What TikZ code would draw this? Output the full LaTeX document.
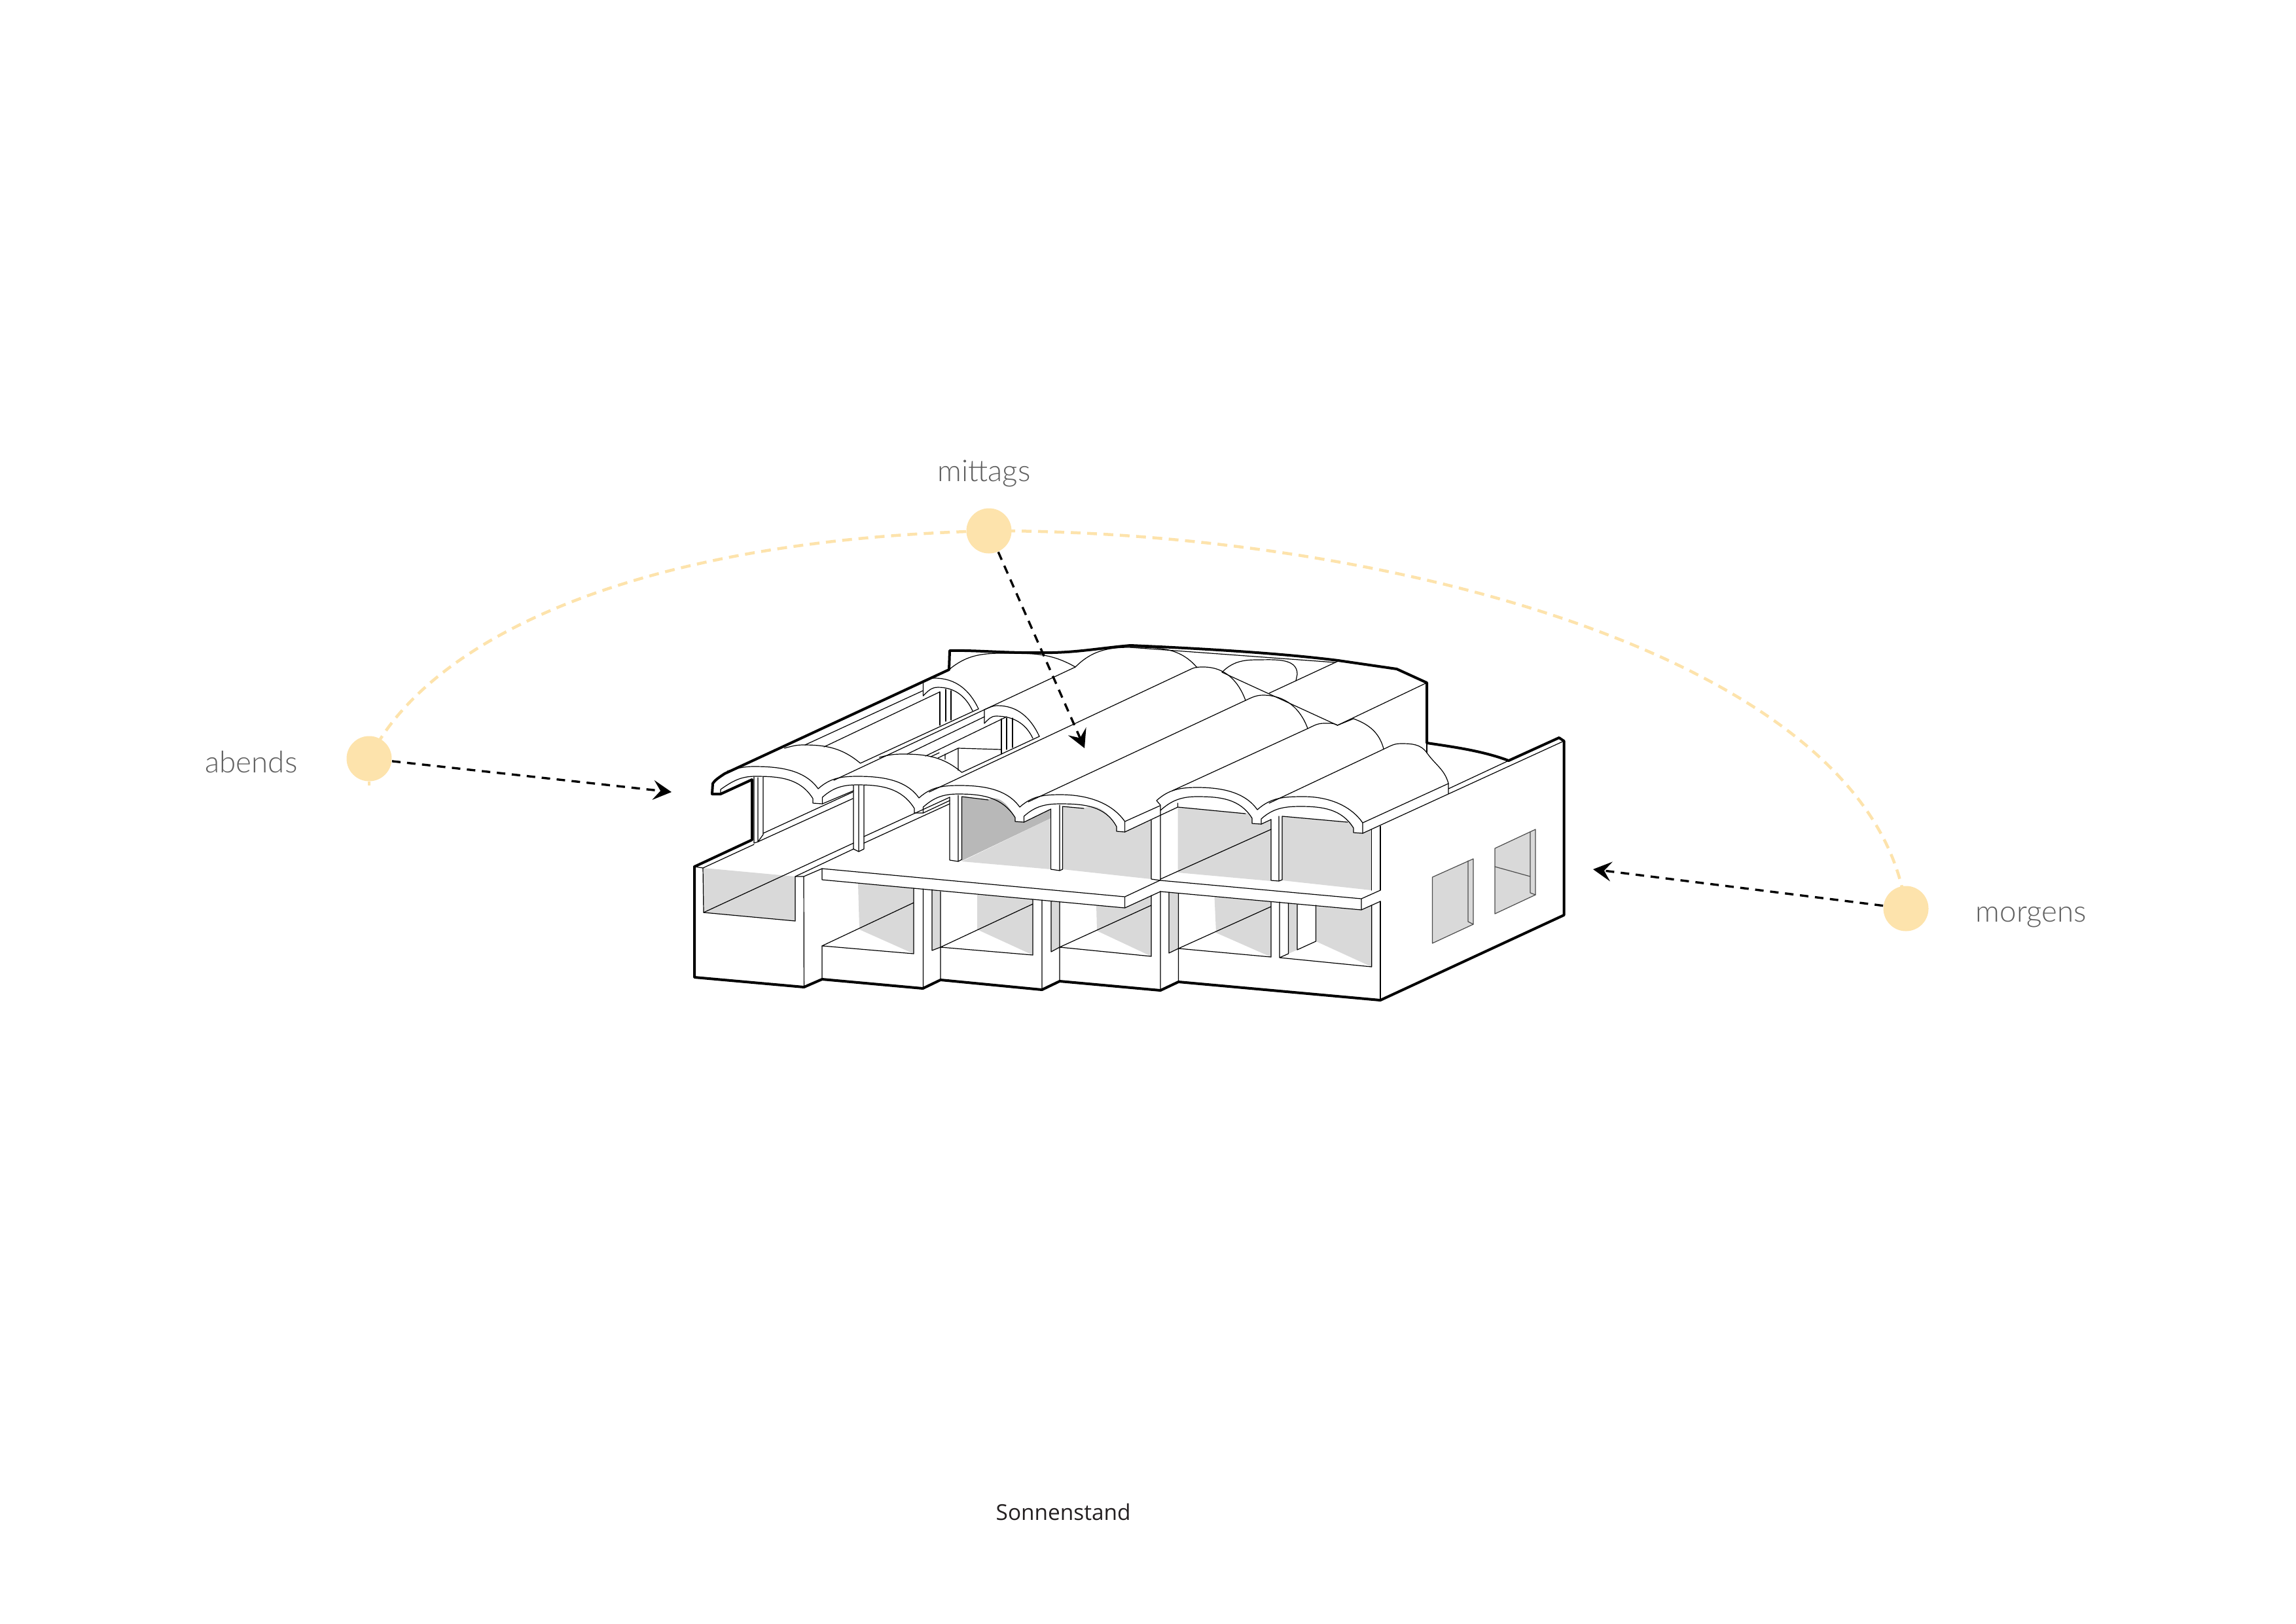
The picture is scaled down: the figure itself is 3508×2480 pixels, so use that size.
\documentclass[tikz,border=0pt]{standalone}
\usepackage{fontspec}
\usetikzlibrary{arrows.meta}
\setmainfont{Open Sans}
\newfontfamily\lightfont{Lato}[UprightFont=* Light]
\definecolor{sun}{HTML}{FDE3AC}
\definecolor{lg}{HTML}{D9D9D9}
\definecolor{dg}{HTML}{B8B8B8}
\definecolor{lab}{HTML}{5F5F5F}
\definecolor{cap}{HTML}{231F20}
\tikzset{
 ln/.style={line width=.12mm,line join=round,line cap=round},
 thk/.style={line width=.4mm,line join=round,line cap=round},
 shlg/.style={fill=lg,draw=none},
 shdg/.style={fill=dg,draw=none},
 al/.style={out=42,in=180},
 ar/.style={out=0,in=125,looseness=.9},
 bk/.style={out=0,in=110},
 sunnode/.style={circle,fill=sun,draw=none,minimum size=6.9mm,inner sep=0},
 sunpath/.style={draw=sun,line width=.45mm,dash pattern=on 1.5mm off 1mm},
 ray/.style={line width=.34mm,dash pattern=on 1.3mm off 1mm,-{Stealth[length=2.8mm,width=3mm,inset=1.1mm]}},
 lbl/.style={font=\lightfont\fontsize{13pt}{15pt}\selectfont,text=lab,anchor=base west,inner sep=0},
 caplbl/.style={font=\fontsize{9.5pt}{11pt}\selectfont,text=cap,anchor=base west,inner sep=0}
}
\begin{document}
\begin{tikzpicture}[x=.1mm,y=-.1mm]
\useasboundingbox (0,0) rectangle (3508,2480);
% ---- suns and their path
\node[sunnode] (mittags) at (1511,811) {};
\node[sunnode] (abends) at (564,1159) {};
\node[sunnode] (morgens) at (2912,1388) {};
\draw[sunpath] (abends.center) .. controls (650,985) and (950,825) .. (mittags.center);
\draw[sunpath] (mittags.center) .. controls (2100,810) and (2860,1000) .. (morgens.center);
\draw[draw=sun,line width=.45mm] (abends.south) -- ++(0,6);
% ---- grey faces
\fill[shlg] (1075,1326)--(1215,1339)--(1215,1407)--(1075,1394)--cycle;
\fill[shlg] (1311,1350)--(1396,1357)--(1396,1457)--(1313,1420)--cycle;
\fill[shlg] (1424,1360)--(1437,1362)--(1437,1447)--(1424,1452)--cycle;
\fill[shlg] (1493,1367)--(1578,1374)--(1578,1459)--(1493,1420)--cycle;
\fill[shlg] (1606,1377)--(1619,1378)--(1619,1447)--(1606,1454)--cycle;
\fill[shlg] (1675,1383)--(1719,1387)--(1759,1368)--(1759,1461)--(1676,1422)--cycle;
\fill[shlg] (1786,1363)--(1800.5,1365)--(1800.5,1449)--(1786,1456)--cycle;
\fill[shlg] (1855.5,1370)--(1942,1378)--(1942,1462)--(1858,1425)--cycle;
\fill[shlg] (1968.4,1380)--(1982,1382)--(1982,1451)--(1968.4,1457)--cycle;
\fill[shlg] (2010.5,1385)--(2080,1390)--(2095.7,1383)--(2095.7,1477)--(2010.5,1438)--cycle;
\fill[shdg] (1469.5,1217)--(1510,1222) to[out=30,in=118] (1551,1249)--(1551,1255)--(1564.5,1256)--(1605.6,1236)--(1605.6,1250)--(1469.5,1315)--cycle;
\fill[shlg] (1469.5,1316)--(1605.6,1250)--(1605.6,1328)--cycle;
\fill[shlg] (1623.5,1232)--(1656,1235) to[out=30,in=118] (1706,1263)--(1706,1270)--(1719,1271)--(1759,1253)--(1759,1343)--(1623.5,1328)--cycle;
\fill[shlg] (1799.5,1233)--(1903,1243) to[out=40,in=120] (1913,1250)--(1913,1258)--(1927,1259)--(1942,1252)--(1942,1346)--(1799.5,1333)--cycle;
\fill[shlg] (1959,1247)--(2059,1256) to[out=40,in=120] (2068,1265)--(2068,1272)--(2082,1273)--(2095.7,1267)--(2095.7,1360)--(1959,1345)--cycle;
% windows
\fill[shlg,draw=black!70,ln] (2188.5,1340)--(2251,1312)--(2251,1412)--(2188.5,1441)--cycle;
\draw[ln,black!70] (2243,1315)--(2243,1408)--(2251,1412);
\fill[shlg,draw=black!70,ln] (2284,1296)--(2346,1267)--(2346,1367)--(2284,1396)--cycle;
\draw[ln,black!70] (2338,1271)--(2338,1364)--(2346,1367) (2284,1324)--(2338,1339);
% ---- outline
\draw[thk] (1061,1324)--(1061,1493)--(1228.4,1508)--(1256,1496)--(1410,1510)--(1437,1497)--(1592,1512)--(1619,1499)--(1773,1513)--(1800.5,1500)--(2109,1528)--(2389.5,1398)--(2389.5,1132)--(2382,1127)--(2305,1162)
 .. controls (2265,1147) and (2220,1141) .. (2180,1135)--(2180,1043)--(2134,1022)--(2044.5,1009)
 .. controls (1950,997) and (1820,990) .. (1727,986)
 .. controls (1680,990) and (1640,998) .. (1590,997)
 .. controls (1540,998) and (1490,993) .. (1451,994)
 --(1450,1023)--(1107,1182) .. controls (1098,1188) and (1092,1192) .. (1089,1197)
 --(1088,1213)--(1101,1213)--(1149,1191)--(1149,1283)--(1061,1324);
\draw[ln] (1727,989)--(2040,1012);
% ---- roof front edge
\draw[ln] (1111,1178) to[out=15,in=180] (1152,1171) to[ar] (1250,1205) to[al] (1310,1186) to[ar] (1404,1219) to[al] (1466,1200) to[ar] (1558,1233) to[al] (1620,1214) to[ar] (1718.6,1255)--(1718.6,1271)--(1706,1270)--(1706,1263) to[out=118,in=0] (1620,1228) to[out=180,in=42] (1564.5,1247)--(1564.5,1256)--(1551,1255)--(1551,1249) to[out=122,in=0] (1464,1213) to[out=180,in=42] (1410.5,1233)--(1410.5,1242)--(1397,1242)--(1397,1235) to[out=122,in=0] (1310,1199) to[out=180,in=42] (1256.5,1218)--(1256.5,1228)--(1242,1227)--(1242,1220) to[out=122,in=0] (1154,1186) to[out=180,in=35] (1101,1206)--(1101,1213);
\draw[ln] (1767,1223) to[out=42,in=180] (1829,1203) to[ar] (1921,1237) to[al] (1992,1217) to[ar] (2082,1257)--(2082,1273)--(2068,1272)--(2068,1265) to[out=122,in=0] (1987,1232) to[out=180,in=42] (1927,1251)--(1927,1259)--(1913,1258)--(1913,1250) to[out=122,in=0] (1829,1217) to[out=180,in=42] (1773,1238)--(1773,1230)--(1767,1223);
% eaves under the arches
\draw[ln] (1256.5,1228)--(1304,1208) (1410.5,1242)--(1451,1223) (1564.5,1256)--(1605.6,1236) (1927,1259)--(1942,1252);
\draw[ln] (1718.6,1255)--(1772,1231) (1718.6,1271)--(1799.5,1233);
\draw[ln] (2082,1257)--(2213,1197)--(2213,1212) (2082,1273)--(2389.5,1132) (2213,1205)--(2305,1162);
% ---- valleys and back ends
\draw[ln] (1274,1192)--(1643,1019);
\draw[ln] (1419.5,1210)--(1820,1022) to[out=25,in=180] (1839,1019) to[bk] (1903,1070);
\draw[ln] (1571,1225)--(1903,1070) to[out=25,in=180] (1930,1062) to[bk] (1998,1113);
\draw[ln] (1791,1208)--(1998,1113) to[out=25,in=180] (2023,1105) to[out=0,in=150] (2043.5,1108);
\draw[ln] (1939,1227)--(2115,1144) to[out=25,in=180] (2140,1136) to[out=0,in=125] (2180,1150) to[out=-55,in=105] (2213,1197);
\draw[ln] (2068,1098) to[out=-20,in=105] (2114,1144);
\draw[ln] (1450,1023) to[out=40,in=180] (1531,998) to[out=0,in=150] (1643,1019) to[out=45,in=180] (1726,989) to[out=0,in=130] (1829,1020);
\draw[ln] (2180,1135)--(2180,1150);
% upper block
\draw[ln] (2180,1043)--(2043.5,1108)--(1867,1027) to[out=45,in=180] (1920,1008) to[out=0,in=90] (1982,1030)--(1980,1040);
\draw[ln] (1939,1059)--(2044.5,1010) (2043.5,1108)--(2068,1098);
% ---- opening 1
\draw[ln] (1198.5,1143) to[out=15,in=180] (1227.5,1138) to[out=0,in=140] (1314.5,1166)--(1495,1083);
\draw[ln] (1410.5,1063)--(1410.5,1040) to[out=20,in=180] (1428,1036) to[out=0,in=115] (1495,1083);
\draw[ln] (1410.5,1063) to[out=45,in=180] (1433,1050) to[out=0,in=115] (1486,1086);
\draw[ln] (1230,1138)--(1410.5,1055) (1259,1141)--(1436,1057);
\draw[ln] (1436,1057)--(1436,1108) (1445,1053)--(1445,1102) (1453,1055)--(1453,1100);
% ---- opening 2
\draw[ln] (1343.6,1157) to[out=15,in=180] (1379,1152) to[out=0,in=140] (1469.5,1180)--(1588,1125);
\draw[ln] (1504,1105)--(1504,1084) to[out=20,in=180] (1524,1078) to[out=0,in=115] (1588,1125);
\draw[ln] (1504,1105) to[out=45,in=180] (1522,1094) to[out=0,in=115] (1578,1128);
\draw[ln] (1386,1152)--(1504,1095) (1414,1155)--(1538,1095);
\draw[ln] (1530,1098)--(1530,1152) (1538,1097)--(1538,1145) (1547,1097)--(1547,1142);
\draw[ln] (1464,1177)--(1464,1143)--(1530,1145) (1464,1143)--(1433,1158) (1444,1152)--(1444,1160) (1435,1150)--(1422,1156);
% ---- columns, upper storey
\draw[ln] (1152,1187)--(1152,1288)--(1158,1286)--(1166,1275)--(1166,1187) (1158,1286)--(1158,1188);
\draw[ln] (1304,1200)--(1304,1297)--(1312,1301)--(1320,1297)--(1320,1200) (1312,1301)--(1312,1200);
\draw[ln] (1451,1218)--(1451,1314)--(1464,1316)--(1469.5,1313)--(1469.5,1217) (1464,1316)--(1464,1215) (1469.5,1217)--(1510,1222);
\draw[ln] (1605.6,1236)--(1605.6,1328)--(1619,1330)--(1623.5,1328)--(1623.5,1232) (1619,1330)--(1619,1230) (1623.5,1232)--(1656,1235);
\draw[ln] (1942,1252)--(1942,1345)--(1954,1346)--(1959,1344)--(1959,1247) (1954,1346)--(1954,1247) (1959,1247)--(2059,1256);
\draw[ln] (1759,1253)--(1759,1343)--(1773,1345) (1773,1238)--(1773,1345);
\draw[ln] (1799.5,1227)--(1799.5,1233)--(1903,1243);
\draw[ln] (2095.7,1267)--(2095.7,1360) (2109,1262)--(2109,1360);
% floor lines, upper storey
\draw[ln] (1166,1273)--(1303,1210) (1158,1286)--(1303,1220);
\draw[ln] (1320,1278)--(1451,1218) (1320,1288)--(1451,1228);
\draw[ln] (1075,1394)--(1304,1288) (1215,1339)--(1304,1297);
\draw[ln] (1773,1343)--(1942,1267);
\draw[ln] (1074,1326)--(1152,1290) (1061,1324)--(1074,1326);
% left bay
\draw[ln] (1074,1326)--(1075,1394)--(1215,1407)--(1215,1339)--(1228,1339)--(1256,1327) (1228,1339)--(1228.4,1508);
% slabs
\draw[ln] (1256,1327)--(1718.6,1370)--(1772,1345) (1256,1327)--(1256,1344) (1256,1445)--(1256,1496) (1256,1344)--(1718.6,1387)--(1773,1362) (1718.6,1370)--(1718.6,1387);
\draw[ln] (1773,1345)--(2080,1373)--(2109,1360) (1773,1362)--(2080,1390)--(2109,1377) (2080,1373)--(2080,1390);
% lower bays
\draw[ln] (1396,1357)--(1396,1457)--(1256,1445) (1256,1445)--(1396,1379);
\draw[ln] (1410.5,1358)--(1410.5,1510) (1424,1359)--(1424,1452)--(1437,1447) (1437,1362)--(1437,1497);
\draw[ln] (1578,1374)--(1578,1459)--(1437,1447) (1437,1447)--(1578,1381);
\draw[ln] (1592,1375)--(1592,1512) (1606,1377)--(1606,1454)--(1619,1447) (1619,1378)--(1619,1499);
\draw[ln] (1759,1368)--(1759,1461)--(1619,1447) (1619,1447)--(1759,1383);
\draw[ln] (1773,1362)--(1773,1513) (1786,1363)--(1786,1456)--(1800.5,1449) (1800.5,1365)--(1800.5,1500);
\draw[ln] (1942,1378)--(1942,1462)--(1800.5,1449) (1800.5,1449)--(1942,1385);
\draw[ln] (1955,1378)--(1955,1463)--(2095.7,1477)--(2095.7,1383) (1955,1463)--(1968.4,1457)--(1968.4,1380) (1982,1382)--(1982,1451)--(2010.5,1438)--(2010.5,1383);
\draw[ln] (2109,1377)--(2109,1528);
% ---- rays, labels
\coordinate (mittagsEnd) at (1657,1143);
\coordinate (abendsEnd) at (1026,1210);
\coordinate (morgensEnd) at (2434,1328);
\draw[ray] (mittags)--(mittagsEnd);
\draw[ray] (abends)--(abendsEnd);
\draw[ray] (morgens)--(morgensEnd);
\node[lbl] (tmittags) at (1432,735) {mittags};
\node[lbl] (tabends) at (313,1180) {abends};
\node[lbl] (tmorgens) at (3018,1408) {morgens};
\node[caplbl] (tcap) at (1521,2322) {Sonnenstand};
\end{tikzpicture}
\end{document}
